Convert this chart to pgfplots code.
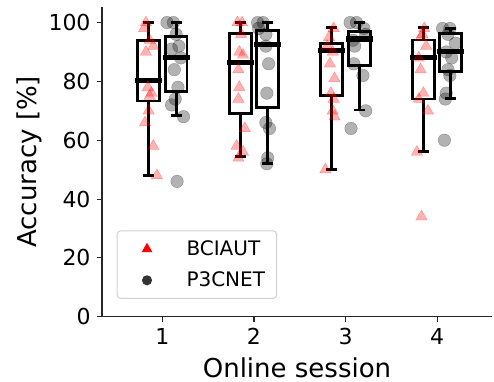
\documentclass[border=0pt]{standalone}
\usepackage{pgfplots}
\pgfplotsset{compat=1.18}
\usepackage{fontspec}
\setmainfont{DejaVu Sans}
\pgfplotsset{
  boxline/.style={forget plot, black, line width=2.7bp, solid, mark=none, line join=miter, unbounded coords=jump},
  medline/.style={forget plot, black, line width=5.3bp, solid, mark=none, line cap=rect}}
\begin{document}
\begin{tikzpicture}
\begin{axis}[
  scale only axis, width=390bp, height=309.7bp,
  xmin=0.34, xmax=4.6, ymin=0, ymax=105.3,
  axis lines=left, axis line style={-, black!85, line width=1.1bp},
  tick align=outside, major tick length=5bp, tick style={black!85, line width=1.1bp},
  xtick={1,2,3,4}, ytick={0,20,40,60,80,100},
  /pgf/number format/assume math mode=true,
  ticklabel style={font=\fontsize{22bp}{26bp}\selectfont},
  yticklabel style={anchor=east, inner sep=0pt, xshift=-6.3bp},
  xticklabel style={anchor=north, inner sep=0pt, yshift=-6.3bp},
  xlabel={Online session}, ylabel={Accuracy [\%]},
  label style={font=\fontsize{26bp}{30bp}\selectfont, inner sep=0pt},
  xlabel style={at={(axis description cs:0.5,-0.1957)}, anchor=base},
  ylabel style={at={(axis description cs:-0.168,0.5)}, anchor=base},
  legend style={at={(0.0377,0.0572)}, anchor=south west, draw=black!18, line width=1bp,
    rounded corners=3.5bp, fill=white, inner xsep=11.6bp, inner ysep=10bp, row sep=15bp,
    font=\fontsize{20bp}{24bp}\selectfont, nodes={inner sep=0pt}},
  legend cell align=left,
  legend image code/.code={\path (0bp,0bp) (56.7bp,0bp); \draw[#1] plot coordinates {(17.7bp,0bp)};},
]
% BCIAUT scatter
\addplot[forget plot, only marks, mark=triangle*, mark size=6.6bp, color=red,
  mark options={fill opacity=0.3, draw opacity=0.3}] table {
x y
0.82 100
0.80 98
0.86 94
0.90 92
0.82 90
0.84 78
0.88 76
0.86 75
0.85 70
0.81 66
0.90 58
0.94 48
1.82 100
1.87 100
1.86 96
1.84 90
1.88 89
1.83 84
1.84 78
1.83 74
1.90 64
1.81 58
1.88 56
1.83 54
2.87 98
2.82 95
2.80 92
2.86 90
2.83 86
2.88 81
2.84 76
2.87 74
2.86 70
2.88 68
2.78 50
3.86 98
3.84 96
3.82 95
3.88 92
3.80 88
3.82 84
3.85 76
3.80 74
3.90 70
3.78 56
3.83 34
};
% P3CNET scatter
\addplot[forget plot, only marks, mark=*, mark size=6.3bp, color=black,
  mark options={fill opacity=0.3, draw opacity=0.3}] table {
x y
1.05 100
1.12 100
1.15 96
1.18 92
1.10 91
1.20 88
1.13 84
1.17 78
1.14 74
1.10 72
1.23 68
1.16 46
2.04 100
2.10 100
2.05 98
2.13 96
2.13 92
2.16 86
2.14 76
2.13 66
2.17 64
2.15 54
2.14 52
3.05 100
3.12 100
3.20 98
3.22 96
3.08 94
3.10 92
3.09 86
3.19 82
3.22 70
3.06 64
4.06 98
4.14 98
4.12 96
4.20 93
4.10 90
4.16 88
4.12 84
4.14 82
4.10 76
4.09 74
4.08 60
};
% ---- boxes: box outline + whiskers + caps, then median ----
% session 1, BCIAUT: lw 48, q1 73.3, med 80.3, q3 94, uw 100
\addplot[boxline] coordinates {(0.73,73.3) (0.97,73.3) (0.97,94) (0.73,94) (0.73,73.3) (0.97,73.3) (nan,nan)
 (0.85,73.3) (0.85,48) (nan,nan) (0.79,48) (0.91,48) (nan,nan) (0.85,94) (0.85,100) (nan,nan) (0.79,100) (0.91,100)};
\addplot[medline] coordinates {(0.73,80.3) (0.97,80.3)};
% session 1, P3CNET: lw 68.3, q1 76.5, med 88.2, q3 95.2, uw 100
\addplot[boxline] coordinates {(1.03,76.5) (1.27,76.5) (1.27,95.2) (1.03,95.2) (1.03,76.5) (1.27,76.5) (nan,nan)
 (1.15,76.5) (1.15,68.3) (nan,nan) (1.09,68.3) (1.21,68.3) (nan,nan) (1.15,95.2) (1.15,100) (nan,nan) (1.09,100) (1.21,100)};
\addplot[medline] coordinates {(1.03,88.2) (1.27,88.2)};
% session 2, BCIAUT: lw 54.4, q1 69.2, med 86.4, q3 96.2, uw 100
\addplot[boxline] coordinates {(1.73,69.2) (1.97,69.2) (1.97,96.2) (1.73,96.2) (1.73,69.2) (1.97,69.2) (nan,nan)
 (1.85,69.2) (1.85,54.4) (nan,nan) (1.79,54.4) (1.91,54.4) (nan,nan) (1.85,96.2) (1.85,100) (nan,nan) (1.79,100) (1.91,100)};
\addplot[medline] coordinates {(1.73,86.4) (1.97,86.4)};
% session 2, P3CNET: lw 52.2, q1 71.1, med 92.5, q3 97.2, uw 100
\addplot[boxline] coordinates {(2.03,71.1) (2.27,71.1) (2.27,97.2) (2.03,97.2) (2.03,71.1) (2.27,71.1) (nan,nan)
 (2.15,71.1) (2.15,52.2) (nan,nan) (2.09,52.2) (2.21,52.2) (nan,nan) (2.15,97.2) (2.15,100) (nan,nan) (2.09,100) (2.21,100)};
\addplot[medline] coordinates {(2.03,92.5) (2.27,92.5)};
% session 3, BCIAUT: lw 50.1, q1 75.1, med 90.5, q3 93, uw 98.4
\addplot[boxline] coordinates {(2.73,75.1) (2.97,75.1) (2.97,93) (2.73,93) (2.73,75.1) (2.97,75.1) (nan,nan)
 (2.85,75.1) (2.85,50.1) (nan,nan) (2.79,50.1) (2.91,50.1) (nan,nan) (2.85,93) (2.85,98.4) (nan,nan) (2.79,98.4) (2.91,98.4)};
\addplot[medline] coordinates {(2.73,90.5) (2.97,90.5)};
% session 3, P3CNET: lw 70.3, q1 85.3, med 94.4, q3 96.9, uw 100
\addplot[boxline] coordinates {(3.03,85.3) (3.27,85.3) (3.27,96.9) (3.03,96.9) (3.03,85.3) (3.27,85.3) (nan,nan)
 (3.15,85.3) (3.15,70.3) (nan,nan) (3.09,70.3) (3.21,70.3) (nan,nan) (3.15,96.9) (3.15,100) (nan,nan) (3.09,100) (3.21,100)};
\addplot[medline] coordinates {(3.03,94.4) (3.27,94.4)};
% session 4, BCIAUT: lw 56.1, q1 74, med 88.2, q3 94.1, uw 98.4
\addplot[boxline] coordinates {(3.73,74) (3.97,74) (3.97,94.1) (3.73,94.1) (3.73,74) (3.97,74) (nan,nan)
 (3.85,74) (3.85,56.1) (nan,nan) (3.79,56.1) (3.91,56.1) (nan,nan) (3.85,94.1) (3.85,98.4) (nan,nan) (3.79,98.4) (3.91,98.4)};
\addplot[medline] coordinates {(3.73,88.2) (3.97,88.2)};
% session 4, P3CNET: lw 74.3, q1 83.3, med 90.1, q3 96.4, uw 98.1
\addplot[boxline] coordinates {(4.03,83.3) (4.27,83.3) (4.27,96.4) (4.03,96.4) (4.03,83.3) (4.27,83.3) (nan,nan)
 (4.15,83.3) (4.15,74.3) (nan,nan) (4.09,74.3) (4.21,74.3) (nan,nan) (4.15,96.4) (4.15,98.1) (nan,nan) (4.09,98.1) (4.21,98.1)};
\addplot[medline] coordinates {(4.03,90.1) (4.27,90.1)};
\addlegendimage{mark=triangle*, color=red, mark size=5.2bp}
\addlegendentry{BCIAUT}
\addlegendimage{mark=*, color=black!80, mark size=4.5bp}
\addlegendentry{P3CNET}
\end{axis}
\pgfresetboundingbox
\path[use as bounding box] (-102bp,-65.3bp) rectangle (392bp,316.7bp);
\end{tikzpicture}
\end{document}
